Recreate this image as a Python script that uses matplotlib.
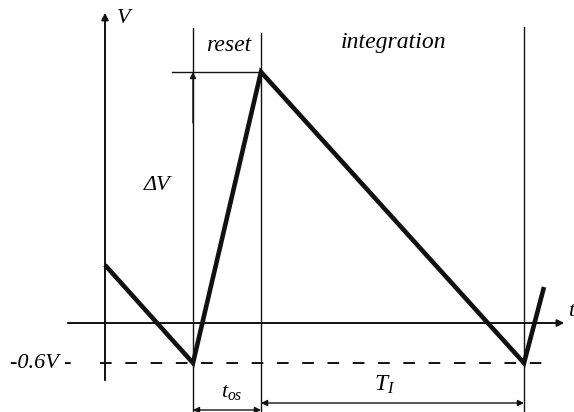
import matplotlib
matplotlib.use("Agg")
import matplotlib.pyplot as plt

plt.rcParams['font.family'] = ['Liberation Serif', 'DejaVu Serif']
plt.rcParams['mathtext.fontset'] = 'custom'
plt.rcParams['mathtext.it'] = 'Liberation Serif:italic'
plt.rcParams['mathtext.rm'] = 'Liberation Serif'

# waveform corners (time, voltage) in drawing units, origin where the axes cross
wave_t = [0, 88, 156, 419, 439]
wave_v = [58, -40, 251, -40, 36]

reset_start = 88
reset_end = 156
integ_end = 419
v_peak = 251
v_low = -40

fig = plt.figure(figsize=(5.74, 4.12), dpi=100)
ax = fig.add_axes([0, 0, 1, 1])
ax.set_xlim(-105, 469)
ax.set_ylim(-89, 323)
ax.axis('off')

ink = '#111111'
thin = dict(color=ink, lw=1.0)

# axes with arrows
ax.annotate('', xy=(0, 313), xytext=(0, -60),
            arrowprops=dict(arrowstyle='-|>', color=ink, lw=1.4, mutation_scale=10))
ax.annotate('', xy=(462, 0), xytext=(-40, 0),
            arrowprops=dict(arrowstyle='-|>', color=ink, lw=1.4, mutation_scale=10))
ax.text(12, 305, 'V', fontsize=16, style='italic', ha='left', va='center')
ax.text(463, 11, 't', fontsize=16, style='italic', ha='left', va='center')

# phase boundaries
ax.plot([reset_start, reset_start], [295, -89], **thin)
ax.plot([reset_end, reset_end], [290, -89], **thin)
ax.plot([integ_end, integ_end], [296, -89], **thin)
ax.plot([67, reset_end], [v_peak, v_peak], **thin)

# delta V arrow head on the reset boundary
ax.annotate('', xy=(reset_start, v_peak), xytext=(reset_start, 200),
            arrowprops=dict(arrowstyle='-|>', color=ink, lw=1.0, mutation_scale=9,
                            shrinkA=0, shrinkB=0))
ax.text(52, 138, 'ΔV', fontsize=16, style='italic', ha='center', va='center')

ax.text(124, 278, 'reset', fontsize=17, style='italic', ha='center', va='center')
ax.text(288, 281, 'integration', fontsize=17, style='italic', ha='center', va='center')

# -0.6V level
ax.plot([-5, 440], [v_low, v_low], color=ink, lw=1.4, dashes=(6, 7))
ax.text(-33, v_low, '-0.6V -', fontsize=16, style='italic', ha='right', va='center')

# waveform
ax.plot(wave_t, wave_v, color=ink, lw=3.3, solid_capstyle='butt', solid_joinstyle='miter')

# time intervals
ax.text(127, -69, r'$t_{os}$', fontsize=16, ha='center', va='center')
ax.text(280, -62, r'$T_I$', fontsize=17, ha='center', va='center')
ax.annotate('', xy=(reset_end, -80), xytext=(integ_end, -80),
            arrowprops=dict(arrowstyle='<|-|>', color=ink, lw=1.0, mutation_scale=9,
                            shrinkA=0, shrinkB=0))
ax.annotate('', xy=(reset_start, -87), xytext=(reset_end, -87),
            arrowprops=dict(arrowstyle='<|-|>', color=ink, lw=1.0, mutation_scale=9,
                            shrinkA=0, shrinkB=0))

fig.savefig('out.png', dpi=100)
